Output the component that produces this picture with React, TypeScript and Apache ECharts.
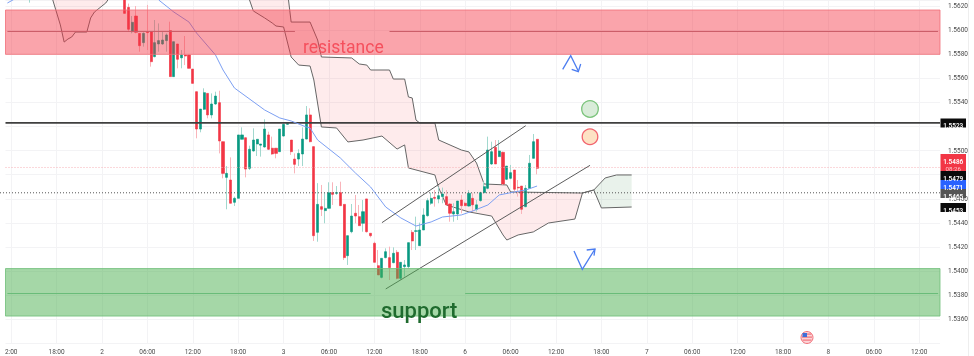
import React, { useEffect, useRef } from "react";
import * as echarts from "echarts";

// ---- DATA ----
const SLOT_COUNT = 247;
const tickLabels = ["2:00","18:00","2","06:00","12:00","18:00","3","06:00","12:00","18:00","6","06:00","12:00","18:00","7","06:00","12:00","18:00","8","06:00","12:00"];
const FIRST_TICK_SLOT = 1;
const TICK_EVERY = 12;

const earlyCandleSlot = 6;
const earlyCandle = [1.5632, 1.5638, 1.56228, 1.5640];
const firstCandleSlot = 31;
// open, close, low, high
const candles: number[][] = [
[1.5630,1.56139,1.56139,1.5635],[1.56189,1.56007,1.55987,1.5622],[1.55987,1.56065,1.55973,1.56117],[1.56117,1.55982,1.55973,1.5620],
[1.55973,1.55871,1.55821,1.55973],[1.55896,1.55973,1.55863,1.55982],[1.55985,1.5598,1.55835,1.56209],[1.55987,1.55738,1.55697,1.55987],
[1.5578,1.55896,1.55774,1.56084],[1.55885,1.55913,1.55821,1.56056],[1.55885,1.55918,1.55877,1.55987],[1.55913,1.5596,1.55821,1.55973],
[1.55996,1.55614,1.55614,1.5607],[1.55614,1.55904,1.55614,1.55904],[1.55885,1.55758,1.55683,1.55885],[1.5577,1.55794,1.55683,1.55835],
[1.55794,1.55785,1.5571,1.55951],[1.55794,1.55683,1.55683,1.55794],[1.55677,1.55558,1.55558,1.55677],
[1.55489,1.55179,1.55102,1.55489],[1.55179,1.55345,1.55152,1.55345],[1.55343,1.55481,1.55337,1.55517],[1.55475,1.55296,1.55268,1.55475],
[1.55296,1.55387,1.55268,1.55475],[1.55387,1.55453,1.55379,1.55489],[1.55398,1.5508,1.54977,1.55497],[1.55074,1.54811,1.5477,1.55074],
[1.54778,1.54811,1.54513,1.54872],[1.54756,1.54563,1.54563,1.54944],[1.54571,1.54604,1.5454,1.54618],[1.54604,1.5513,1.54604,1.5513],
[1.55094,1.5513,1.55094,1.55193],[1.55107,1.54847,1.54778,1.55107],[1.54853,1.55011,1.54839,1.55041],[1.54997,1.55088,1.54991,1.55185],
[1.55055,1.55094,1.54955,1.55094],[1.55045,1.55055,1.5495,1.55055],[1.5503,1.55179,1.55024,1.5526],[1.5513,1.55011,1.55005,1.55157],
[1.5502,1.54972,1.54964,1.55116],[1.5502,1.54977,1.54936,1.5502],[1.54991,1.55179,1.54991,1.55179],[1.55121,1.55218,1.55116,1.55226],
[1.55218,1.55226,1.55215,1.5523],[1.55088,1.54991,1.54964,1.55088],[1.5493,1.54886,1.54811,1.54977],[1.5493,1.54977,1.54872,1.55011],
[1.54972,1.55096,1.54872,1.55193],[1.55096,1.55296,1.55094,1.5537],[1.55296,1.55074,1.55069,1.55351],[1.55033,1.54294,1.5425,1.55033],
[1.54322,1.54554,1.54244,1.5473],[1.54535,1.54513,1.54457,1.54715],[1.54502,1.54521,1.54397,1.5465],[1.54521,1.5465,1.54521,1.54737],
[1.54651,1.54637,1.54549,1.54737],[1.54645,1.54652,1.54632,1.54706],[1.54651,1.54543,1.5454,1.54742],[1.54554,1.54112,1.54092,1.54554],
[1.54128,1.54294,1.54051,1.54294],[1.54327,1.54457,1.54314,1.54557],[1.5448,1.54457,1.54397,1.54632],[1.54452,1.54377,1.54377,1.54549],
[1.54397,1.54493,1.54327,1.5459],[1.54599,1.54327,1.5432,1.54599],
[1.54314,1.54294,1.5428,1.54314],[1.54231,1.54073,1.54073,1.54244],[1.54045,1.53968,1.53968,1.54175],[1.53948,1.54106,1.5394,1.54106],
[1.54112,1.54161,1.54106,1.54189],[1.54112,1.54029,1.53926,1.54203],[1.5407,1.54148,1.54065,1.54197],[1.54156,1.5394,1.53932,1.54175],
[1.5394,1.54073,1.53926,1.54073],[1.54037,1.54051,1.53954,1.54092],[1.54037,1.54236,1.54023,1.54236],[1.54322,1.5425,1.54175,1.54341],
[1.5433,1.54335,1.54175,1.54452],[1.54211,1.54341,1.54211,1.54402],[1.54341,1.54466,1.54341,1.54521],[1.5446,1.54585,1.54452,1.54604],
[1.54563,1.54604,1.5455,1.54651],[1.54612,1.54604,1.54535,1.54673],[1.54599,1.54626,1.54563,1.54701],[1.54618,1.5464,1.54563,1.54693],
[1.54618,1.5455,1.54543,1.54673],[1.54557,1.5448,1.5441,1.54563],[1.54474,1.54493,1.5441,1.54563],[1.54474,1.54582,1.54424,1.54582],
[1.5459,1.54543,1.5448,1.54632],[1.54563,1.54543,1.5454,1.54576],[1.5454,1.54646,1.54535,1.54673],[1.54604,1.5455,1.54493,1.54646],
[1.54513,1.5455,1.54493,1.5459],[1.54585,1.54651,1.54576,1.54659],[1.54651,1.54701,1.54646,1.54742],[1.54687,1.55005,1.54679,1.55116],
[1.54889,1.54991,1.54881,1.55074],[1.55027,1.54889,1.54889,1.55088],[1.5495,1.54997,1.5495,1.55088],[1.54986,1.54723,1.54715,1.54992],
[1.54762,1.54872,1.54756,1.54872],[1.5477,1.54817,1.54762,1.54881],[1.54839,1.54679,1.54659,1.54839],[1.54696,1.5469,1.54618,1.54756],
[1.54706,1.54513,1.54474,1.54706],[1.54535,1.54687,1.5453,1.54715],[1.54687,1.54895,1.54687,1.54964],[1.54936,1.55074,1.54936,1.55138],
[1.55094,1.54853,1.54803,1.55094],
];

// Moving average: [slot, value]
const movingAverageEarly = [[0,1.56225],[2,1.5626]];
const movingAverage = [[40,1.5625],[44,1.5615],[48,1.56067],[50,1.55976],[55,1.55794],[57,1.55669],[60,1.5552],[68,1.55337],[72,1.55271],[75,1.55246],[79,1.55196],[80,1.55188],[82,1.55088],[88,1.54939],[92,1.54814],[96,1.54698],[100,1.54532],[104,1.54441],[108,1.54374],[112,1.54408],[115,1.54449],[120,1.54466],[123,1.54499],[127,1.54549],[130,1.54632],[134,1.54657],[137,1.54673],[140,1.54706]];

// Ichimoku cloud edges: [slot, value]
const earlyCloudEdge = [[11,1.564],[12,1.5625],[14,1.56043],[15,1.55901],[16,1.55926],[17,1.55943],[18,1.55984],[21,1.55984],[22,1.56101],[23,1.5615],[25,1.5620],[26,1.56225],[27,1.5627]];
const earlyCloudCeiling = [[11,1.564],[27,1.564]];
const cloudUpperEdge = [[63,1.565],[74,1.5633],[75,1.56067],[80,1.56067],[82,1.55918],[83,1.55777],[91,1.55769],[93,1.55719],[95,1.5571],[96,1.55669],[101,1.55669],[102,1.55594],[105,1.55594],[106,1.55445],[107,1.55437],[108,1.55254],[109,1.55229],[113,1.55229],[114,1.55088],[120,1.55005],[122,1.54989],[124,1.54897],[126,1.54723],[132,1.54715],[133,1.54657],[152,1.54648],[155,1.54673]];
const cloudLowerEdge = [[63,1.565],[64,1.5625],[65,1.56159],[68,1.56101],[70,1.56059],[71,1.56034],[73,1.56026],[75,1.55777],[77,1.5571],[80,1.55702],[81,1.55586],[83,1.55196],[87,1.55188],[90,1.55072],[94,1.55088],[99,1.55121],[103,1.55013],[105,1.55047],[106,1.54856],[113,1.54798],[114,1.5469],[116,1.54549],[122,1.54491],[128,1.54457],[131,1.543],[132,1.54258],[135,1.543],[139,1.54325],[143,1.54399],[150,1.54432],[152,1.54648],[155,1.54673]];
const futureUpperEdge = [[155,1.54673],[158,1.54773],[161,1.54798],[165,1.54798]];
const futureLowerEdge = [[155,1.54673],[157,1.54524],[165,1.54532]];

// Price zones and levels
const resistanceZone = [1.55799, 1.56167];
const supportZone = [1.53627, 1.54021];
const resistanceMid = 1.55989;
const supportMid = 1.53814;
const resistanceLineSlots = [[0, 76], [101, 246]];
const supportLineSlots = [[0, 96], [121, 246]];
const keyLevel = 1.5523;
const lastPriceLevel = 1.5486;
const dottedLevel = 1.5465;

const upperChannel = [[99,1.54402],[137,1.55207]];
const lowerChannel = [[100,1.53852],[154,1.54878]];

const yTicks = { min: 1.534, max: 1.5625, step: 0.002 };
const hiddenYTicks = ["1.5340", "1.5520", "1.5480"];
const priceTags = ["1.5523", "1.5479", "1.5471", "1.5465", "1.5453"];
const lastPriceTag = ["1.5486", "08:26"];

// ---- STYLE ----
const RED = "#f23645";
const GREEN = "#089981";
const WICK_RED = "#f9b4ba";
const WICK_GREEN = "#a2d8ce";
const FONT = "Roboto, sans-serif";
const NO_CANDLE = ["-", "-", "-", "-"];

function slotCategories(): string[] {
  return new Array(SLOT_COUNT).fill("").map((_, i) => {
    const k = (i - FIRST_TICK_SLOT) / TICK_EVERY;
    return Number.isInteger(k) && tickLabels[k] !== undefined ? tickLabels[k] : "";
  });
}

function slotIsTick(i: number) {
  return i >= FIRST_TICK_SLOT && (i - FIRST_TICK_SLOT) % TICK_EVERY === 0;
}

function edgeLine(name: string, data: number[][]) {
  return {
    name, type: "line", data, symbol: "none", silent: true, z: 2,
    lineStyle: { color: "#666666", width: 1 },
  };
}

function polygonSeries(name: string, top: number[][], bottom: number[][], fill: string) {
  return {
    name, type: "custom", coordinateSystem: "cartesian2d", silent: true, z: 1, data: [[0]],
    renderItem: (_: any, api: any) => ({
      type: "polygon",
      shape: { points: [...top, ...bottom.slice().reverse()].map((p) => api.coord(p)) },
      style: { fill },
    }),
  };
}

function zoneSeries(name: string, zone: number[], fill: string, stroke: string) {
  return {
    name, type: "custom", coordinateSystem: "cartesian2d", silent: true, z: 6, data: [[0]],
    renderItem: (params: any, api: any) => {
      const yTop = api.coord([0, zone[1]])[1];
      const yBottom = api.coord([0, zone[0]])[1];
      return {
        type: "rect",
        shape: { x: params.coordSys.x, y: yTop, width: params.coordSys.width, height: yBottom - yTop },
        style: { fill, stroke, lineWidth: 1 },
      };
    },
  };
}

function levelSeries(name: string, level: number, stroke: string, lineWidth: number, lineDash: number[] | null, z: number, fromEdge = false) {
  return {
    name, type: "custom", coordinateSystem: "cartesian2d", silent: true, z, data: [[0]],
    renderItem: (params: any, api: any) => {
      const y = api.coord([0, level])[1];
      const x1 = fromEdge ? 0 : params.coordSys.x;
      return {
        type: "line",
        shape: { x1, y1: y, x2: params.coordSys.x + params.coordSys.width, y2: y },
        style: { stroke, lineWidth, lineDash: lineDash || undefined },
      };
    },
  };
}

function tagGraphic(text: string, y: number, fill: string) {
  return [
    { type: "rect", z: 100, shape: { x: 940.5, y, width: 25.5, height: 9 }, style: { fill } },
    { type: "text", z: 101, style: { text, x: 953.2, y: y + 4.6, fill: "#ffffff", font: `600 6.4px ${FONT}`, textAlign: "center", textBaseline: "middle" } },
  ];
}

export default function App() {
  const ref = useRef<HTMLDivElement>(null);
  useEffect(() => {
    const chart = echarts.init(ref.current!, null, { renderer: "svg" });
    const slots: any[] = new Array(SLOT_COUNT).fill(0).map(() => NO_CANDLE);
    slots[earlyCandleSlot] = earlyCandle;
    candles.forEach((c, i) => { slots[firstCandleSlot + i] = c; });
    const bodies = slots.map((c) => c[0] === "-" ? c : [c[0], c[1], Math.min(c[0], c[1]), Math.max(c[0], c[1])]);
    const upSlots = slots.map((c) => (c[0] !== "-" && c[1] >= c[0] ? c : NO_CANDLE));
    const downSlots = slots.map((c) => (c[0] !== "-" && c[1] < c[0] ? c : NO_CANDLE));

    const bandLine = (name: string, value: number, ranges: number[][], color: string) =>
      ranges.map(([a, b], i) => ({
        name: `${name} ${i}`, type: "line", data: [[a, value], [b, value]], symbol: "none", silent: true, z: 7,
        lineStyle: { color, width: 1 },
      }));

    const wickStyle = (c: string) => ({ color: c, color0: c, borderColor: c, borderColor0: c, borderColorDoji: c, borderWidth: 1 });

    chart.setOption({
      animation: false,
      backgroundColor: "#ffffff",
      grid: { left: 5.5, top: 0, width: 934.5, height: 343.4, containLabel: false },
      xAxis: {
        type: "category",
        data: slotCategories(),
        boundaryGap: true,
        axisLine: { show: false },
        axisTick: { show: false },
        axisLabel: {
          interval: (i: number) => slotIsTick(i),
          margin: 5,
          fontSize: 6.5,
          fontFamily: FONT,
          color: "#4a4a4a",
          hideOverlap: false,
        },
        splitLine: {
          show: true,
          interval: (i: number) => slotIsTick(i),
          alignWithLabel: true,
          lineStyle: { color: "#f3f3f5", width: 1 },
        },
      },
      yAxis: {
        type: "value",
        position: "right",
        min: yTicks.min,
        max: yTicks.max,
        interval: yTicks.step,
        scale: true,
        axisLine: { show: false },
        axisTick: { show: false },
        axisLabel: {
          margin: 8,
          fontSize: 6.5,
          fontFamily: FONT,
          color: "#4a4a4a",
          formatter: (v: number) => {
            const s = v.toFixed(4);
            return v > yTicks.max - 1e-6 || hiddenYTicks.includes(s) ? "" : s;
          },
        },
        splitLine: { show: true, lineStyle: { color: "#f3f3f5", width: 1 } },
      },
      series: [
        polygonSeries("early cloud", earlyCloudCeiling, earlyCloudEdge, "rgba(242,54,69,0.1)"),
        polygonSeries("cloud bearish", cloudUpperEdge, cloudLowerEdge, "rgba(242,54,69,0.1)"),
        polygonSeries("cloud bullish", futureUpperEdge, futureLowerEdge, "rgba(76,145,90,0.12)"),
        edgeLine("early cloud edge", earlyCloudEdge),
        edgeLine("cloud upper", cloudUpperEdge),
        edgeLine("cloud lower", cloudLowerEdge),
        edgeLine("future upper", futureUpperEdge),
        edgeLine("future lower", futureLowerEdge),
        { name: "wicks down", type: "candlestick", data: downSlots, barWidth: 1, silent: true, z: 3, itemStyle: wickStyle(WICK_RED) },
        { name: "wicks up", type: "candlestick", data: upSlots, barWidth: 1, silent: true, z: 3, itemStyle: wickStyle(WICK_GREEN) },
        {
          name: "candles", type: "candlestick", data: bodies, barWidth: 2.6, silent: true, z: 4,
          itemStyle: { color: GREEN, color0: RED, borderColor: GREEN, borderColor0: RED, borderColorDoji: GREEN, borderWidth: 0.6 },
        },
        { name: "MA", type: "line", data: movingAverage, symbol: "none", silent: true, z: 5, lineStyle: { color: "#7c9ff2", width: 1 } },
        { name: "MA early", type: "line", data: movingAverageEarly, symbol: "none", silent: true, z: 5, lineStyle: { color: "#7c9ff2", width: 1 } },
        { name: "channel upper", type: "line", data: upperChannel, symbol: "none", silent: true, z: 5, lineStyle: { color: "#5c5c5c", width: 1 } },
        { name: "channel lower", type: "line", data: lowerChannel, symbol: "none", silent: true, z: 5, lineStyle: { color: "#5c5c5c", width: 1 } },
        levelSeries("key level", keyLevel, "#3f3f3f", 1.6, null, 5),
        levelSeries("last price", lastPriceLevel, "#f6b0b5", 1, [1, 2], 5),
        levelSeries("dotted level", dottedLevel, "#555555", 1, [1, 2], 5, true),
        zoneSeries("resistance zone", resistanceZone, "rgba(245,54,69,0.45)", "rgba(240,110,120,0.8)"),
        zoneSeries("support zone", supportZone, "rgba(76,175,80,0.5)", "rgba(110,190,120,0.8)"),
        ...bandLine("resistance mid", resistanceMid, resistanceLineSlots, "#c95a65"),
        ...bandLine("support mid", supportMid, supportLineSlots, "#68bb78"),
      ],
      graphic: [
        { type: "text", z: 90, style: { text: "resistance", x: 303, y: 37.5, fill: "#f5505d", font: `400 17.5px ${FONT}`, textBaseline: "alphabetic" } },
        { type: "text", z: 90, style: { text: "support", x: 381, y: 299, fill: "#1f6b2e", font: `500 22px ${FONT}`, textBaseline: "alphabetic" } },
        { type: "polyline", z: 90, shape: { points: [[562.7, 69.3], [570.7, 55.7], [578.3, 71]] }, style: { stroke: "#4c7df0", lineWidth: 1.3, fill: "none" } },
        { type: "polyline", z: 90, shape: { points: [[571.7, 69.3], [578.3, 71.7], [580.7, 64]] }, style: { stroke: "#4c7df0", lineWidth: 1.3, fill: "none" } },
        { type: "polyline", z: 90, shape: { points: [[574, 251], [582.3, 269.3], [595, 249]] }, style: { stroke: "#4c7df0", lineWidth: 1.3, fill: "none" } },
        { type: "polyline", z: 90, shape: { points: [[586.7, 250], [595, 249], [594, 255.7]] }, style: { stroke: "#4c7df0", lineWidth: 1.3, fill: "none" } },
        { type: "circle", z: 90, shape: { cx: 590, cy: 109, r: 8.3 }, style: { fill: "#d9ecd9", stroke: "#7cc47c", lineWidth: 1.3 } },
        { type: "circle", z: 90, shape: { cx: 590, cy: 136.7, r: 7.8 }, style: { fill: "#fde2c4", stroke: "#f2646e", lineWidth: 1.3 } },
        { type: "line", z: 90, shape: { x1: 968.5, y1: 0, x2: 968.5, y2: 356 }, style: { stroke: "#eeeeee", lineWidth: 1 } },
        // Economic-calendar flag
        { type: "circle", z: 90, shape: { cx: 807, cy: 337.5, r: 6 }, style: { fill: "#fbd5d8", stroke: "#f2727b", lineWidth: 1 } },
        { type: "rect", z: 91, shape: { x: 802.5, y: 333.5, width: 9, height: 1.2 }, style: { fill: "#f2727b" } },
        { type: "rect", z: 91, shape: { x: 802, y: 336.5, width: 10, height: 1.2 }, style: { fill: "#f2727b" } },
        { type: "rect", z: 91, shape: { x: 802.5, y: 339.5, width: 9, height: 1.2 }, style: { fill: "#f2727b" } },
        { type: "rect", z: 92, shape: { x: 802.5, y: 333, width: 4.5, height: 4 }, style: { fill: "#3f6fd8" } },
        // Price tags on the right scale
        ...tagGraphic(priceTags[0], 118.5, "#0b0b0b"),
        { type: "rect", z: 100, shape: { x: 940.5, y: 154, width: 25.5, height: 17 }, style: { fill: RED } },
        { type: "text", z: 101, style: { text: lastPriceTag[0], x: 953.2, y: 159, fill: "#ffffff", font: `600 6.4px ${FONT}`, textAlign: "center", textBaseline: "middle" } },
        { type: "text", z: 101, style: { text: lastPriceTag[1], x: 953.2, y: 166.3, fill: "#ffc4c9", font: `400 6.2px ${FONT}`, textAlign: "center", textBaseline: "middle" } },
        ...tagGraphic(priceTags[1], 171, "#0b0b0b"),
        ...tagGraphic(priceTags[2], 180, "#2962ff"),
        ...tagGraphic(priceTags[3], 189, "#555555"),
        ...tagGraphic(priceTags[4], 203, "#0b0b0b"),
      ],
    });
    return () => chart.dispose();
  }, []);
  return <div ref={ref} style={{ position: "absolute", left: 0, top: 0, width: 974, height: 356, background: "#fff", filter: "blur(0.35px)" }} />;
}
